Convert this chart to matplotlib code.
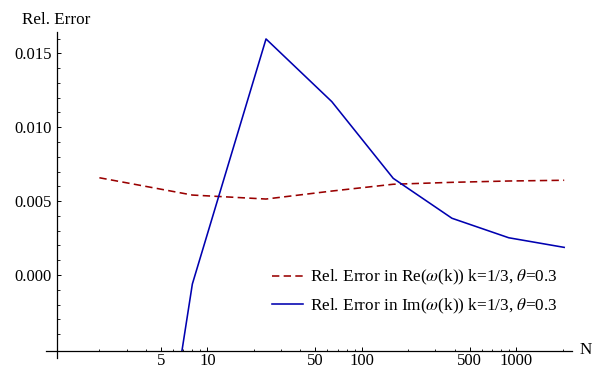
import matplotlib
matplotlib.use("Agg")
import numpy as np
import matplotlib.pyplot as plt
from matplotlib.ticker import FixedLocator, FixedFormatter, NullFormatter

plt.rcParams['font.family'] = ['Liberation Serif', 'DejaVu Serif']
plt.rcParams['mathtext.fontset'] = 'stix'
plt.rcParams['font.size'] = 12

# Data: relative errors versus N
N = [2, 8, 24, 64, 160, 384, 896, 2048]
re_err = [0.00658, 0.00541, 0.00514, 0.00568, 0.00614, 0.00627, 0.00636, 0.00641]
im_err = [-0.0410, -0.00061, 0.01597, 0.01173, 0.00654, 0.00384, 0.00252, 0.00187]

re_label = r'Rel. Error in Re($\omega$(k)) k=1/3, $\theta$=0.3'
im_label = r'Rel. Error in Im($\omega$(k)) k=1/3, $\theta$=0.3'

x_major = [5, 10, 50, 100, 500, 1000]
x_major_labels = ['5', '10', '50', '100', '500', '1000']
x_minor = [2, 3, 4, 6, 7, 8, 9, 20, 30, 40, 60, 70, 80, 90,
           200, 300, 400, 600, 700, 800, 900, 2000]
y_major = [0.000, 0.005, 0.010, 0.015]
y_major_labels = ['0.000', '0.005', '0.010', '0.015']

W, H = 599, 368
fig = plt.figure(figsize=(W / 100, H / 100), dpi=100)
left_px, right_px, bottom_px, top_px = 46, 571.7, 350.7, 32
ax = fig.add_axes([left_px / W, 1 - bottom_px / H,
                   (right_px - left_px) / W, (bottom_px - top_px) / H])

red = '#990000'
blue = '#0000b0'
ax.plot(N, re_err, color=red, lw=1.15, dashes=(4.6, 2.7), label=re_label)
ax.plot(N, im_err, color=blue, lw=1.15, label=im_label)

ax.set_xscale('log')
ax.set_xlim(0.902, 2291)
ax.set_ylim(-0.00512, 0.01644)

for s in ('top', 'right'):
    ax.spines[s].set_visible(False)
ax.spines['left'].set_position(('data', 1.06))
ax.spines['left'].set_bounds(-0.0056, 0.01644)
for s in ('left', 'bottom'):
    ax.spines[s].set_linewidth(0.9)
    ax.spines[s].set_color('black')

ax.xaxis.set_major_locator(FixedLocator(x_major))
ax.xaxis.set_major_formatter(FixedFormatter(x_major_labels))
ax.xaxis.set_minor_locator(FixedLocator(x_minor))
ax.xaxis.set_minor_formatter(NullFormatter())

y_minor = [v for v in np.round(np.arange(-0.005, 0.0165, 0.001), 4)
           if round(v / 0.005, 6) % 1 != 0]
ax.yaxis.set_major_locator(FixedLocator(y_major))
ax.yaxis.set_major_formatter(FixedFormatter(y_major_labels))
ax.yaxis.set_minor_locator(FixedLocator(y_minor))

ax.tick_params(which='major', direction='in', length=3.0, width=0.7, pad=3.5, labelsize=12)
ax.tick_params(axis='x', which='major', pad=1.5)
ax.tick_params(which='minor', direction='in', length=1.8, width=0.6)

fig.text(22 / W, 1 - 20 / H, 'Rel. Error', ha='left', va='center', fontsize=12.3)
fig.text(580 / W, 1 - 350 / H, 'N', ha='left', va='center', fontsize=12.3)

ax.legend(loc='upper left', bbox_to_anchor=(272 / W, 1 - 268 / H),
          bbox_transform=fig.transFigure, frameon=False, fontsize=12.4,
          handlelength=1.8, handletextpad=0.4, labelspacing=0.55,
          borderpad=0, borderaxespad=0)

fig.savefig('out.png', dpi=100)
